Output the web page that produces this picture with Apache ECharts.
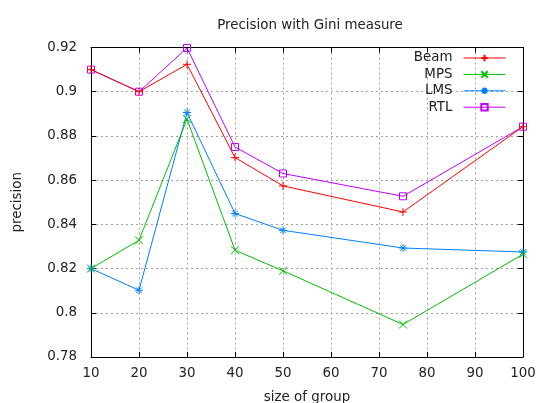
<!DOCTYPE html>
<html><head><meta charset="utf-8">
<script src="https://cdn.jsdelivr.net/npm/echarts@6/dist/echarts.min.js"></script>
<style>html,body{margin:0;padding:0;background:#fff}#c{width:538px;height:403px}</style>
</head><body><div id="c"></div>
<script>
const groupSizes = [10, 20, 30, 40, 50, 75, 100];
const beam = [0.910, 0.900, 0.9124, 0.8702, 0.8574, 0.8456, 0.8842];
const mps  = [0.820, 0.8328, 0.8876, 0.8283, 0.819, 0.7947, 0.8265];
const lms  = [0.820, 0.8102, 0.8906, 0.8449, 0.8373, 0.8293, 0.8275];
const rtl  = [0.910, 0.900, 0.9198, 0.875, 0.863, 0.8527, 0.8842];
const seriesNames = ['Beam', 'MPS', 'LMS', 'RTL'];
const seriesColors = ['#ff0000', '#00c000', '#0080ff', '#c000ff'];
const yTicks = [0.78, 0.8, 0.82, 0.84, 0.86, 0.88, 0.9, 0.92];

const FONT = 'DejaVu Sans';
const FS = 13.4;
const TXT = '#222';
const sym = {
  Beam: 'path://M0,5L10,5M5,0L5,10',
  MPS: 'path://M0,0L10,10M0,10L10,0',
  LMS: 'path://M0,5L10,5M5,0L5,10M1.5,1.5L8.5,8.5M1.5,8.5L8.5,1.5',
  RTL: 'rect'
};
const values = [beam, mps, lms, rtl];

const chart = echarts.init(document.getElementById('c'), null, {renderer: 'canvas'});
const grid = {left: 91, right: 15, top: 47.5, bottom: 46, containLabel: false, outerBoundsMode: 'none'};
const dotted = {show: true, lineStyle: {color: '#a0a0a0', type: [2, 3], width: 1}};
const series = seriesNames.map((n, i) => ({
  name: n, type: 'line',
  data: groupSizes.map((x, j) => [x, values[i][j]]),
  symbol: sym[n], symbolSize: n === 'RTL' ? 7 : 8,
  showSymbol: true,
  lineStyle: {color: seriesColors[i], width: 1},
  itemStyle: {color: n === 'RTL' ? 'rgba(0,0,0,0)' : seriesColors[i], borderColor: seriesColors[i], borderWidth: 1},
  emphasis: {disabled: true},
  animation: false,
  z: 10 - i
}));

const legends = seriesNames.map((n, i) => ({
  data: [n],
  orient: 'vertical',
  right: 32, top: 51.5 + i * 16.4,
  align: 'right',
  itemWidth: 42, itemHeight: 8,
  padding: 0,
  selectedMode: false,
  lineStyle: {width: 1},
  textStyle: {fontFamily: FONT, fontSize: FS, color: TXT, padding: [0, 6, 0, 0]}
}));

chart.setOption({
  backgroundColor: '#fff',
  animation: false,
  title: {
    text: 'Precision with Gini measure', left: 305, top: 14, textAlign: 'center',
    textStyle: {fontFamily: FONT, fontSize: FS, fontWeight: 'normal', color: TXT}
  },
  legend: legends,
  grid: grid,
  xAxis: [{
    type: 'value', min: 10, max: 100, interval: 10,
    name: 'size of group', nameLocation: 'middle', nameGap: 34,
    nameTextStyle: {fontFamily: FONT, fontSize: FS, color: TXT},
    axisLine: {show: true, onZero: false, lineStyle: {color: '#000', width: 1}},
    axisTick: {show: true, inside: true, length: 5, lineStyle: {color: '#000'}},
    axisLabel: {fontFamily: FONT, fontSize: FS, color: TXT, margin: 10},
    splitLine: dotted
  }, {
    type: 'value', min: 10, max: 100, interval: 10, position: 'top',
    axisLine: {show: true, onZero: false, lineStyle: {color: '#000', width: 1}},
    axisTick: {show: true, inside: true, length: 5, lineStyle: {color: '#000'}},
    axisLabel: {show: false}, splitLine: {show: false}
  }],
  yAxis: [{
    type: 'value', min: yTicks[0], max: yTicks[yTicks.length - 1], interval: 0.02,
    name: 'precision', nameLocation: 'middle', nameGap: 67, nameRotate: 90,
    nameTextStyle: {fontFamily: FONT, fontSize: FS, color: TXT},
    axisLine: {show: true, onZero: false, lineStyle: {color: '#000', width: 1}},
    axisTick: {show: true, inside: true, length: 5, lineStyle: {color: '#000'}},
    axisLabel: {fontFamily: FONT, fontSize: FS, color: TXT, margin: 14,
      formatter: v => String(+v.toFixed(2))},
    splitLine: dotted
  }, {
    type: 'value', min: yTicks[0], max: yTicks[yTicks.length - 1], interval: 0.02, position: 'right',
    axisLine: {show: true, onZero: false, lineStyle: {color: '#000', width: 1}},
    axisTick: {show: true, inside: true, length: 5, lineStyle: {color: '#000'}},
    axisLabel: {show: false}, splitLine: {show: false}
  }],
  series: series
});
</script></body></html>
